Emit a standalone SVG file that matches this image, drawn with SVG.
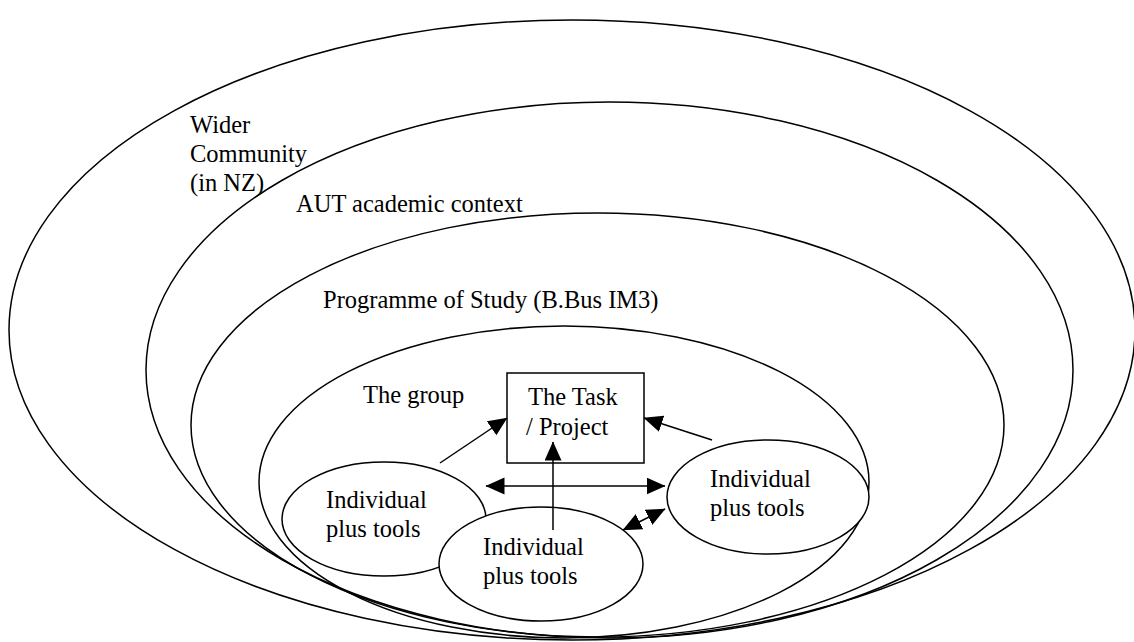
<svg xmlns="http://www.w3.org/2000/svg" width="1134" height="642" viewBox="0 0 1134 642">
  <style>
    .ring { fill: none; stroke: #000; stroke-width: 1.5; }
    .node { fill: #fff; stroke: #000; stroke-width: 1.5; }
    .label { font-size: 24.5px; fill: #000; }
    .link { stroke: #000; stroke-width: 1.5; fill: none; }
  </style>
  <defs>
    <marker id="head" markerUnits="userSpaceOnUse" markerWidth="20" markerHeight="18" refX="18.5" refY="8.5" orient="auto-start-reverse">
      <path d="M0,0 L19,8.5 L0,17 Z" fill="#000"/>
    </marker>
  </defs>
  <rect width="1134" height="642" fill="#fff"/>

  <g font-family="'Liberation Serif', 'DejaVu Serif', serif">
    <!-- nested contexts, outermost first -->
    <g id="wider-community">
      <ellipse class="ring" cx="572" cy="330" rx="563" ry="310"/>
      <text class="label" x="190" y="133">Wider</text>
      <text class="label" x="190" y="162">Community</text>
      <text class="label" x="190" y="191">(in NZ)</text>
    </g>
    <g id="aut-context">
      <ellipse class="ring" cx="609.5" cy="370" rx="463.5" ry="268"/>
      <text class="label" x="296" y="212">AUT academic context</text>
    </g>
    <g id="programme">
      <ellipse class="ring" cx="597.5" cy="425" rx="406.5" ry="212"/>
      <text class="label" x="323" y="308">Programme of Study (B.Bus IM3)</text>
    </g>
    <g id="group">
      <ellipse class="ring" cx="564" cy="482" rx="305" ry="156"/>
      <text class="label" x="363" y="403">The group</text>
    </g>

    <g id="task">
      <rect class="node" x="507" y="373" width="137" height="90"/>
      <text class="label" x="528" y="405">The Task</text>
      <text class="label" x="526" y="435">/ Project</text>
    </g>

    <g id="individual-left">
      <ellipse class="node" cx="384" cy="519" rx="102" ry="57"/>
      <text class="label" x="326" y="508">Individual</text>
      <text class="label" x="326" y="537">plus tools</text>
    </g>
    <g id="individual-right">
      <ellipse class="node" cx="768" cy="497" rx="101" ry="57"/>
      <text class="label" x="710" y="487">Individual</text>
      <text class="label" x="710" y="516">plus tools</text>
    </g>
    <g id="individual-middle">
      <ellipse class="node" cx="541" cy="564" rx="102" ry="57"/>
      <text class="label" x="483" y="555">Individual</text>
      <text class="label" x="483" y="584">plus tools</text>
    </g>
  </g>

  <g id="connectors">
    <line class="link" x1="440" y1="463" x2="507" y2="418" marker-end="url(#head)"/>
    <line class="link" x1="712" y1="440" x2="644" y2="418" marker-end="url(#head)"/>
    <line class="link" x1="553" y1="530" x2="553" y2="442" marker-end="url(#head)"/>
    <line class="link" x1="486" y1="486" x2="665" y2="486" marker-start="url(#head)" marker-end="url(#head)"/>
    <line class="link" x1="623" y1="530" x2="665" y2="509" marker-start="url(#head)" marker-end="url(#head)"/>
  </g>
</svg>
